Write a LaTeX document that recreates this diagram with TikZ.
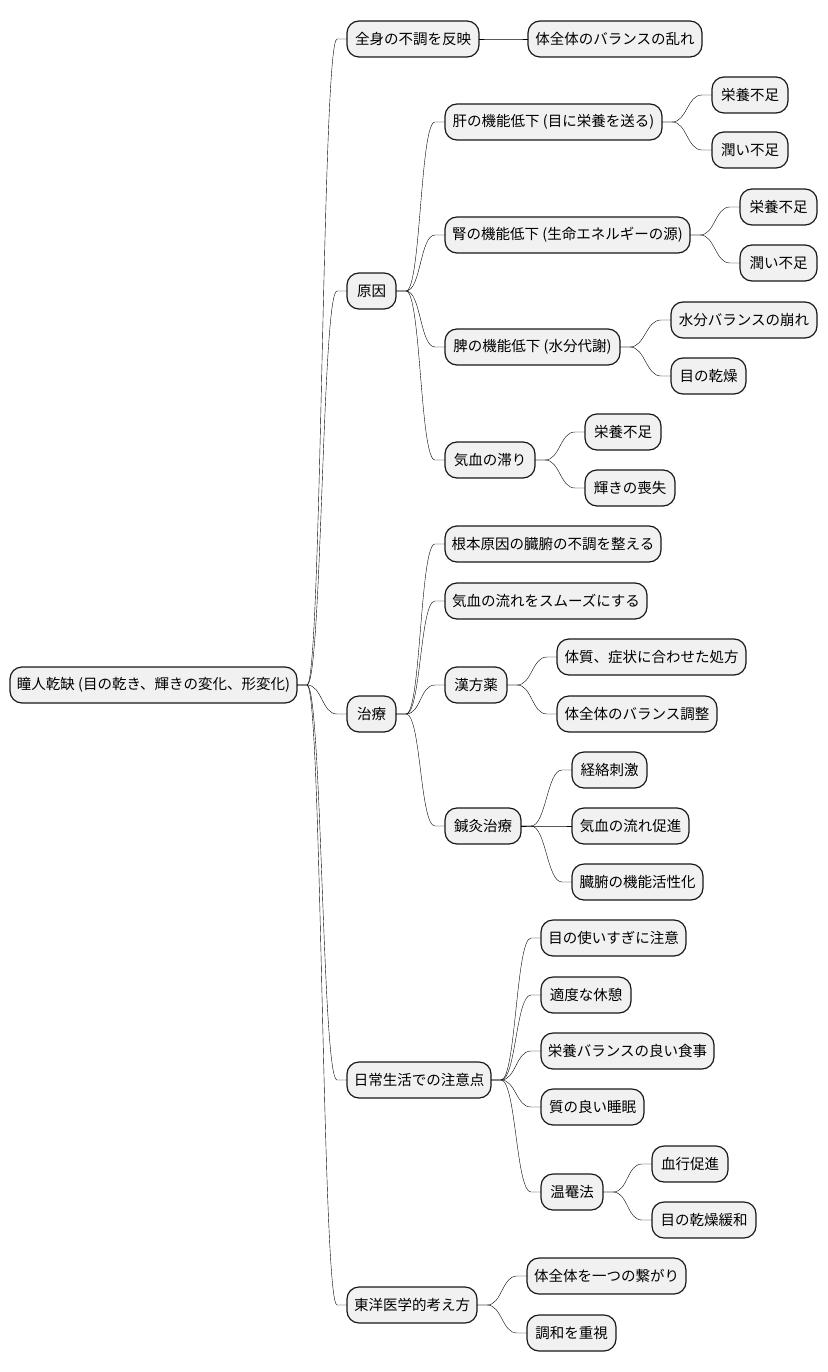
\documentclass[tikz,border=0pt]{standalone}
\usepackage{fontspec}
\setmainfont{Noto Sans CJK JP}
\definecolor{boxfill}{HTML}{F1F1F1}
\definecolor{boxline}{HTML}{181818}
\tikzset{
  box/.style={draw=boxline, fill=boxfill, line width=1.2pt, rounded corners=12pt,
    minimum height=36pt, inner xsep=2pt, inner ysep=0pt, outer sep=0pt, anchor=west,
    font=\fontsize{14.5}{17}\selectfont, text=black},
  conn/.style={draw=boxline, line width=0.9pt,
    to path={-- ++(10pt,0) .. controls +(15pt,0) and +(-15pt,0) .. ([xshift=-10pt]\tikztotarget.west) -- (\tikztotarget.west)}}
}
\newcommand{\mmnode}[5]{\node[box, minimum width={#3-#2}] (#1) at (#2,#4) {#5};}
\newcommand{\mmlink}[2]{\draw (#1.east) to[conn] (#2);}
\begin{document}
\begin{tikzpicture}[x=1pt,y=-1pt]
\useasboundingbox (0,0) rectangle (827,1372);
\mmnode{root}{10}{297}{685}{瞳人乾缺 (目の乾き、輝きの変化、形変化)}
\mmnode{a}{347}{479}{39}{全身の不調を反映}
\mmnode{a1}{528}{702}{39}{体全体のバランスの乱れ}
\mmnode{b}{347}{396}{291}{原因}
\mmnode{b1}{445}{662}{122}{肝の機能低下 (目に栄養を送る)}
\mmnode{b11}{712}{788}{95}{栄養不足}
\mmnode{b12}{712}{788}{150}{潤い不足}
\mmnode{b2}{445}{690}{235}{腎の機能低下 (生命エネルギーの源)}
\mmnode{b21}{740}{817}{207}{栄養不足}
\mmnode{b22}{740}{817}{263}{潤い不足}
\mmnode{b3}{445}{620}{347}{脾の機能低下 (水分代謝)}
\mmnode{b31}{671}{817}{320}{水分バランスの崩れ}
\mmnode{b32}{671}{746}{376}{目の乾燥}
\mmnode{b4}{445}{535}{460}{気血の滞り}
\mmnode{b41}{585}{661}{432}{栄養不足}
\mmnode{b42}{585}{675}{488}{輝きの喪失}
\mmnode{c}{347}{396}{714}{治療}
\mmnode{c1}{445}{661}{544}{根本原因の臓腑の不調を整える}
\mmnode{c2}{445}{647}{601}{気血の流れをスムーズにする}
\mmnode{c3}{445}{507}{685}{漢方薬}
\mmnode{c31}{557}{746}{657}{体質、症状に合わせた処方}
\mmnode{c32}{557}{717}{714}{体全体のバランス調整}
\mmnode{c4}{445}{521}{826}{鍼灸治療}
\mmnode{c41}{572}{647}{770}{経絡刺激}
\mmnode{c42}{572}{689}{826}{気血の流れ促進}
\mmnode{c43}{572}{703}{882}{臓腑の機能活性化}
\mmnode{d}{347}{491}{1080}{日常生活での注意点}
\mmnode{d1}{541}{686}{938}{目の使いすぎに注意}
\mmnode{d2}{541}{631}{995}{適度な休憩}
\mmnode{d3}{541}{714}{1051}{栄養バランスの良い食事}
\mmnode{d4}{541}{644}{1107}{質の良い睡眠}
\mmnode{d5}{541}{603}{1192}{温罨法}
\mmnode{d51}{652}{728}{1164}{血行促進}
\mmnode{d52}{652}{756}{1220}{目の乾燥緩和}
\mmnode{e}{347}{477}{1305}{東洋医学的考え方}
\mmnode{e1}{527}{686}{1276}{体全体を一つの繋がり}
\mmnode{e2}{527}{616}{1333}{調和を重視}
\foreach \p/\c in {root/a, root/b, root/c, root/d, root/e,
  a/a1, b/b1, b/b2, b/b3, b/b4,
  b1/b11, b1/b12, b2/b21, b2/b22, b3/b31, b3/b32, b4/b41, b4/b42,
  c/c1, c/c2, c/c3, c/c4, c3/c31, c3/c32, c4/c41, c4/c42, c4/c43,
  d/d1, d/d2, d/d3, d/d4, d/d5, d5/d51, d5/d52, e/e1, e/e2}
  {\mmlink{\p}{\c}}
\end{tikzpicture}
\end{document}
